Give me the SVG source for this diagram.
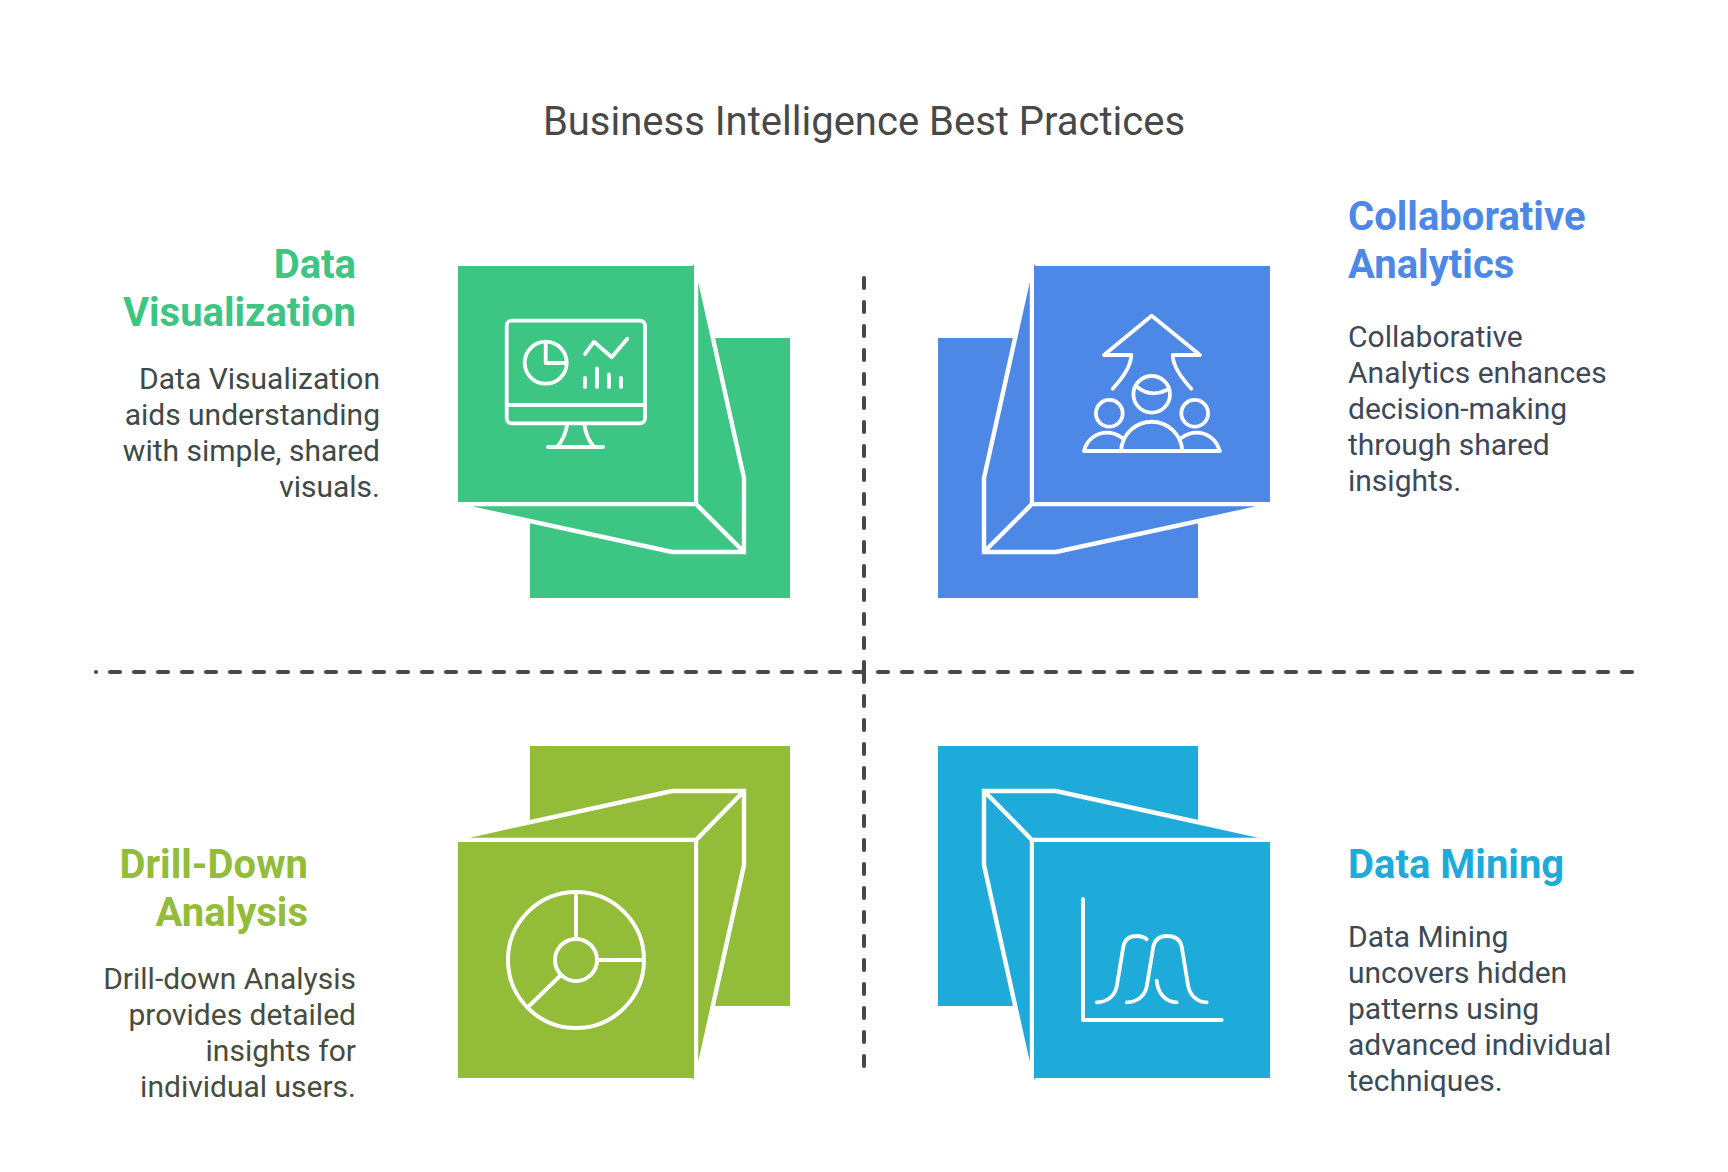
<svg xmlns="http://www.w3.org/2000/svg" width="1728" height="1172" viewBox="0 0 1728 1172">
<style>
text{font-family:Roboto,"Liberation Sans",sans-serif}
.title{font-size:40px;fill:#484848;text-anchor:middle}
.h{font-size:40px;font-weight:700}
.b{font-size:30px}
.r{text-anchor:end}
.edge{fill:none;stroke:#fff;stroke-width:4.4;stroke-linejoin:miter}
.icon{fill:none;stroke:#fff;stroke-width:3.8;stroke-linecap:round;stroke-linejoin:round}
.div{fill:none;stroke:#484848;stroke-width:4;stroke-linecap:round;stroke-dasharray:10 14}
</style>
<rect width="1728" height="1172" fill="#fff"/>
<text id="title" class="title" x="864" y="134.5">Business Intelligence Best Practices</text>
<g id="connectors">
<path class="div" style="stroke-dasharray:0 14 10 0" d="M96 672H1632"/>
<path class="div" d="M864 278V672"/>
<path class="div" d="M864 672V1066"/>
</g>
<g id="data-visualization" fill="#3cc583">
<rect x="530" y="338" width="260" height="260"/>
<path d="M696 262L744 478V552H672L458 505.5Z"/>
<path class="edge" d="M696 262V504M458 505.5L672 552H744V478L696 262M458 504H696L744 552"/>
<rect x="458" y="266" width="236" height="236"/>
<g class="icon">
<rect x="506.7" y="320.7" width="138.3" height="102.6" rx="5"/>
<path d="M506.7 405H645M567.3 424Q565 438 557.3 446.7M584.3 424Q586 438 594 446.7M548 447H603"/>
<circle cx="545.7" cy="362.7" r="21"/>
<path d="M545.7 342V363H566M585 354L594 341.7L611.7 357.3L627.3 338.7M585 387V378M597 387V368.5M609 387V374.5M621 387V378"/>
</g>
<text class="h r" fill="#3cc583" x="356" y="278">Data</text>
<text class="h r" fill="#3cc583" x="356" y="326">Visualization</text>
<g class="b r" fill="#3d4a47">
<text x="380" y="389">Data Visualization</text>
<text x="380" y="425">aids understanding</text>
<text x="380" y="461">with simple, shared</text>
<text x="380" y="497">visuals.</text>
</g>
</g>
<g id="collaborative-analytics" fill="#4e88e7">
<rect x="938" y="338" width="260" height="260"/>
<path d="M1032 262L984 478V552H1056L1270 505.5Z"/>
<path class="edge" d="M1032 262V504M1270 505.5L1056 552H984V478L1032 262M1270 504H1032L984 552"/>
<rect x="1034" y="266" width="236" height="236"/>
<g class="icon">
<path d="M1112.7 388.7Q1131 369 1131.3 355H1104L1151.7 315.7L1200 355H1172.7Q1173 369 1191.3 388.7"/>
<circle cx="1151.7" cy="394.3" r="18.3"/>
<path d="M1136.7 386.7Q1151 398 1166.7 390"/>
<circle cx="1109.3" cy="413.3" r="13.4"/>
<circle cx="1194.7" cy="413.3" r="13.4"/>
<path d="M1084 451H1220M1121 451A30.7 31 0 0 1 1182.3 451M1084 451C1087 439 1097 432.7 1107 432.7C1113 432.7 1118 435 1122.7 438.3M1219.6 451C1216.5 439 1206.5 432.7 1196.5 432.7C1190.5 432.7 1185.5 435 1180.8 438.3"/>
</g>
<text class="h" fill="#4e88e7" x="1348" y="230">Collaborative</text>
<text class="h" fill="#4e88e7" x="1348" y="278">Analytics</text>
<g class="b" fill="#3e4859">
<text x="1348" y="347">Collaborative</text>
<text x="1348" y="383">Analytics enhances</text>
<text x="1348" y="419">decision-making</text>
<text x="1348" y="455">through shared</text>
<text x="1348" y="491">insights.</text>
</g>
</g>
<g id="drill-down-analysis" fill="#93bc39">
<rect x="530" y="746" width="260" height="260"/>
<path d="M696 1082L744 865V791H672L458 838Z"/>
<path class="edge" d="M696 1082V840M458 838L672 791H744V865L696 1082M458 840H696L744 791"/>
<rect x="458" y="842" width="236" height="236"/>
<g class="icon" style="stroke-width:4">
<circle cx="576" cy="960" r="68"/>
<circle cx="576" cy="960" r="21"/>
<path d="M576 893V938M598 960H642M560 976L528 1007"/>
</g>
<text class="h r" fill="#93bc39" x="308" y="878">Drill-Down</text>
<text class="h r" fill="#93bc39" x="308" y="926">Analysis</text>
<g class="b r" fill="#474c3c">
<text x="356" y="989">Drill-down Analysis</text>
<text x="356" y="1025">provides detailed</text>
<text x="356" y="1061">insights for</text>
<text x="356" y="1097">individual users.</text>
</g>
</g>
<g id="data-mining" fill="#1eabda">
<rect x="938" y="746" width="260" height="260"/>
<path d="M1032 1082L984 865V791H1056L1270 838Z"/>
<path class="edge" d="M1032 1082V840M1270 838L1056 791H984V865L1032 1082M1270 840H1032L984 791"/>
<rect x="1034" y="842" width="236" height="236"/>
<g class="icon">
<path d="M1083 899V1020H1221.7"/>
<path d="M1096.7 1002.3C1108 1002.3 1115 995 1116.7 986.7L1123.3 946.7C1125 938 1131 936 1136.7 936C1140 936 1144 937 1146.7 939.3"/>
<path d="M1126.7 1002.3C1138 1002.3 1145 995 1146.7 986.7L1153.3 946.7C1155 939 1160 936 1167 936C1174 936 1180 939 1181.7 946.7L1188.3 986.7C1190 995 1197 1002.3 1206.7 1002.3"/>
<path d="M1156.7 980.7C1158 993 1165 1002.3 1176.7 1002.3"/>
</g>
<text class="h" fill="#1eabda" x="1348" y="878">Data Mining</text>
<g class="b" fill="#3b4a54">
<text x="1348" y="947">Data Mining</text>
<text x="1348" y="983">uncovers hidden</text>
<text x="1348" y="1019">patterns using</text>
<text x="1348" y="1055">advanced individual</text>
<text x="1348" y="1091">techniques.</text>
</g>
</g>
</svg>
